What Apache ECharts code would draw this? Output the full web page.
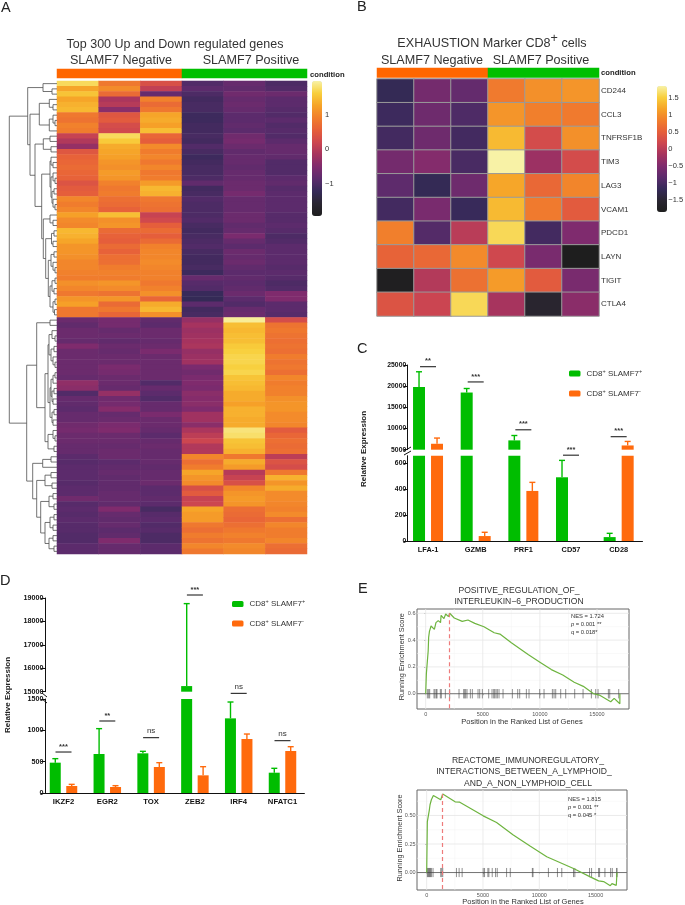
<!DOCTYPE html>
<html><head><meta charset="utf-8">
<style>html,body{margin:0;padding:0;background:#fff}#c{width:685px;height:905px}</style>
<script src="https://cdn.jsdelivr.net/npm/echarts@6/dist/echarts.min.js"></script>
</head><body><div id="c"></div>
<script>
// ---------- Panel A data (six samples, 90 gene rows, top to bottom) ----------
const sampleA1=[1.75,1.3,1.55,1.3,1.4,1.45,.85,.8,.95,.9,.15,-.05,-.3,.45,.6,.65,.7,.65,.6,.4,.5,.55,1,.9,1,1.25,1.05,1,1.45,1.4,1.3,1.15,1.15,1.1,1,1,.95,.9,1.1,1,.85,1.15,1.25,.85,.85,
-.7,-.8,-.7,-.7,-.75,-.5,-.7,-.7,-.7,-.7,-.7,-.75,-.35,-.4,-.95,-.75,-.8,-.85,-.75,-.75,-.65,-.6,-.7,-.7,-.75,-.75,-.85,-.9,-.85,-.85,-.85,-.9,-.85,-.85,-.65,-.9,-.85,-.9,-.85,-.9,-.9,-.95,-.95,-.85,-.85];
const sampleA2=[.85,1.05,.7,-.1,0,-.4,.45,.5,.3,.25,1.75,1.6,1.35,1.3,1.25,1.15,1.1,1.2,1.15,.95,.85,.9,.75,.7,.6,1.5,1.1,1.15,.7,.6,.55,.7,.6,.75,.75,.9,.95,.9,1.15,1.05,.8,1.15,.7,.85,.65,
-.6,-.6,-.75,-.7,-.8,-.7,-.75,-.7,-.7,-.55,-.6,-.7,-.7,-.75,-.3,-.65,-.6,-.45,-.75,-.7,-.55,-.5,-.7,-.7,-.75,-.7,-.7,-.85,-.8,-.75,-.8,-.8,-.8,-.75,-.75,-.8,-.5,-.75,-.8,-.75,-.85,-.8,-.5,-.75,-.75];
const sampleA3=[.35,.1,-.75,.95,.7,.85,1.3,1.35,1.25,1.5,.65,.55,1.05,.9,1,.85,1,.85,.9,1.2,1.45,1.4,.85,.8,.75,.15,.25,.55,.7,.55,.7,.95,1,1,1.05,1,.95,.95,.85,.95,1.1,.65,1.35,1.45,1.1,
-.8,-.85,-.7,-.7,-.75,-.7,-.55,-.7,-.7,-.7,-.7,-.7,-.95,-.75,-.85,-.95,-.75,-.75,-.55,-.7,-.7,-.75,-.85,-.75,-.7,-.75,-.75,-.75,-.8,-.75,-.75,-.7,-.85,-.85,-.8,-.85,-1.05,-.9,-.85,-.95,-.9,-1,-1,-.85,-.85];
const sampleA4=[-.95,-.85,-1,-1.1,-1.05,-1.05,-1.15,-1.15,-1.1,-1.1,-1.05,-1.1,-.95,-1.05,-1.15,-1.1,-1.05,-1.05,-1,-.8,-1.1,-1.05,-.95,-1,-1,-1,-.95,-1.05,-1.1,-1.05,-1,-.95,-1.05,-1.1,-1.1,-1.05,-1.15,-.75,-.9,-.95,-1.2,-1.25,-.85,-1.1,-1.05,
-.3,-.15,-.25,-.2,-.15,-.1,-.3,-.25,-.2,-.55,-.65,-.55,-.5,-.55,-.4,-.45,-.4,-.5,-.2,-.2,-.4,-.1,.05,.2,-.05,-.05,1,.75,.9,1.3,1.15,1.05,.35,.5,.15,.2,1.3,1.2,1.2,.85,.75,.9,.8,1,.85];
const sampleA5=[-.75,-.8,-.65,-.75,-.7,-.75,-.85,-.85,-.8,-.85,-.65,-.6,-.7,-.8,-.75,-.75,-.8,-.75,-.75,-.7,-.7,-.6,-.75,-.75,-.75,-.7,-.7,-.8,-.75,-.55,-.75,-.85,-.7,-.75,-.7,-.8,-.85,-.8,-.85,-.8,-.7,-.85,-.95,-.75,-.7,
1.95,1.5,1.45,1.5,1.5,1.6,1.65,1.7,1.7,1.65,1.7,1.55,1.5,1.45,1.35,1.35,1.25,1.4,1.4,1.35,1.35,1.85,1.8,1.55,1.5,1.4,.85,1.35,1.2,0,.15,.35,1,1.15,1.2,1.15,.75,.7,.65,.75,.85,.95,.85,1.05,1];
const sampleA6=[-1,-.95,-.7,-.85,-.85,-.9,-.95,-.85,-.95,-.9,-.95,-.85,-.75,-.75,-.8,-.95,-.95,-.95,-.85,-.8,-.9,-.85,-.85,-.85,-.85,-.9,-.9,-.85,-.9,-1,-.95,-.85,-.85,-.85,-.85,-.9,-.85,-.9,-1,-.95,-.5,-.5,-.85,-.85,-.9,
.3,.8,.85,.8,.75,.8,.75,.9,.8,.85,.75,1,.9,.95,.95,1.1,1.15,1.15,1.05,1.05,1,.5,.65,.75,.7,.75,.05,.4,.3,.85,1.4,1.15,1.35,1.05,1.05,1,.95,1.05,.75,1,.9,.9,1,.75,.7];
const samplesA=[sampleA1,sampleA2,sampleA3,sampleA4,sampleA5,sampleA6];
const condLabels=['SLAMF7 Negative','SLAMF7 Positive'];
const scaleTicksA=[1,0,-1];
const scaleTicksB=[1.5,1,.5,0,-.5,-1,-1.5];
// dendrogram of panel A: [height, childA, childB]; a bare number is a gene row
const treeU=[29.3,[14,0,[5,1,2]],[27,[17.7,[7.7,3,[4,4,5]],[7.7,[4,6,[2,7,8]],9]],[22,[13.7,[7,10,11],[6,12,13]],[15.3,[7,[6,14,[4,15,16]],[6,[4,17,[2,18,19]],[5,[3,20,21],[4,22,[2,23,24]]]]],[13.7,[7,25,[4,26,27]],[11.3,[5.5,[3,28,29],[4,30,31]],[8.7,[6,[3,32,33],[4,34,[2,35,36]]],[7,[5,[2,37,38],[3,39,40]],[4,[2,41,42],[2.5,43,44]]]]]]]]]];
const treeL=[30.3,[20.3,[7,45,46],[12,[9,[8,[5,47,[2,48,49]],[6,[3,50,51],[4,52,[2,53,54]]]],[7,[6,[4,[2,55,56],57],[5,[3,58,59],[4,60,61]]],[5,[3,62,63],[4,64,65]]]],[9,[4,66,[2,67,68]],[3,69,70]]]],[24.3,[14.3,[6,71,72],73],[20.3,[12,[6,74,75],[5,76,77]],[16.3,[8,[4,78,79],[3,80,81]],[12,[7,[3,82,83],[4,84,85]],[8,[4,86,87],[3,88,89]]]]]]];
const treeRoot=[47.7,treeU,treeL];
// ---------- Panel B data ----------
const genesB=['CD244','CCL3','TNFRSF1B','TIM3','LAG3','VCAM1','PDCD1','LAYN','TIGIT','CTLA4'];
const matrixB=[
[-1.2,-.6,-.75,.8,1,1.05],[-1.1,-.65,-.95,1.05,.85,.8],[-1.05,-.65,-1.05,1.35,.25,1],[-.6,-.45,-1,1.85,-.25,.25],[-.8,-1.2,-.65,1.2,.6,.9],
[-1.05,-.55,-1.15,1.35,.8,.45],[.85,-.9,0,1.6,-1.05,-.5],[.55,.6,.95,.2,-.55,-1.85],[-1.8,-.05,.7,1.1,.45,-.55],[.35,.15,1.6,-.15,-1.55,-.4]];
// ---------- Panel C data ----------
const catsC=['LFA-1','GZMB','PRF1','CD57','CD28'];
const posC=[19800,18500,7200,490,30];
const posCErr=[23400,19450,8350,620,59];
const negC=[6400,38,385,0,6000];
const negCErr=[7750,67,451,0,6950];
const sigC=[['**',24600],['***',21000],['***',9700],['***',660],['***',8070]];
// ---------- Panel D data ----------
const catsD=['IKZF2','EGR2','TOX','ZEB2','IRF4','NFATC1'];
const posD=[484,622,633,15240,1191,324];
const posDErr=[548,1027,665,18760,1452,394];
const negD=[112,96,415,282,862,670];
const negDErr=[138,117,484,420,941,739];
const sigD=[['***',654],['**',1149],['ns',883],['***',19128],['ns',1590],['ns',835]];
// ---------- Panel E data ----------
const runE1=[[0,0],[60,.15],[200,.155],[220,.32],[260,.42],[330,.465],[420,.47],[470,.505],[760,.48],[900,.53],[1050,.52],[1100,.545],[1300,.53],[1350,.585],[1600,.56],[1750,.595],[2000,.575],[2100,.6],[2500,.565],[3200,.54],[3700,.55],[4300,.525],[5100,.5],[6000,.455],[6500,.445],[7500,.38],[9000,.29],[10000,.235],[11000,.18],[12000,.14],[13000,.085],[13800,.055],[14700,0],[15200,-.01],[16200,-.06],[16500,-.035],[17000,-.075],[17000,0]];
const hitsE1=[146,263,350,730,817,934,992,1284,1372,1722,2100,2919,3327,3415,3503,3619,3911,4086,4583,4729,4962,5517,5808,5955,6042,6159,6275,6421,6772,7589,8056,8231,8815,9048,9982,10362,11092,11238,11384,11821,12259,13047,13777,14507,14886,15090,15995,16112,16900];
const runE2=[[0,0],[59,.447],[178,.462],[238,.55],[297,.594],[356,.594],[416,.638],[505,.644],[594,.676],[1247,.638],[1426,.688],[2525,.62],[2940,.617],[5019,.497],[6207,.438],[7692,.329],[9177,.232],[10662,.138],[13039,.035],[14524,-.038],[15266,-.073],[15712,-.079],[16306,-.115],[16454,-.097],[16840,-.112],[16900,0]];
const hitsE2=[59,119,178,238,297,356,416,564,1247,1337,1426,2643,2881,3148,5019,5138,5435,5524,5821,6118,6267,7098,7425,9385,9444,10811,11613,11999,13039,13157,14464,14643,15266,15355,15830,16335,16484,16870,16900];
const xTicksE=[0,5000,10000,15000];
const xMinorE=[2500,7500,12500];
const yTicksE1=[0,.2,.4,.6];
const yMinorE1=[.1,.3,.5];
const yTicksE2=[0,.25,.5];
const yMinorE2=[.125,.375,.625];
const legendNames=['CD8+ SLAMF7+','CD8+ SLAMF7-'];

// ---------- helpers ----------
const F='"Liberation Sans",Arial,sans-serif';
const GREEN='#00bd00',ORANGE='#ff6a0d';
const palette=['#1e1e1e','#2a2631','#352a58','#5a2b6c','#7e2b6e','#a5335f','#cd4650','#e65f3a','#f17e2c','#f6a328','#f8cf3c','#f8f2a6'];
const grids=[],xAxes=[],yAxes=[],series=[],visualMaps=[],graphics=[];
function addGrid(g,x,y){grids.push(Object.assign({containLabel:false,show:false},g));
  xAxes.push(Object.assign({gridIndex:grids.length-1},x));yAxes.push(Object.assign({gridIndex:grids.length-1},y));return grids.length-1;}
const hiddenCat=d=>({type:'category',data:d,show:false});
function T(text,x,y,size,o={}){return {type:'text',x,y,rotation:o.rot||0,z:50,style:{text,fontFamily:F,fontSize:size,fontWeight:o.bold?'bold':'normal',fill:o.fill||'#333',align:o.align||'center',verticalAlign:'middle',rich:o.rich}};}
function L(x1,y1,x2,y2){return {type:'line',z:50,shape:{x1,y1,x2,y2},style:{stroke:'#111',lineWidth:1}};}

// panel letters
[['A',1,8],['B',357,7],['C',357,349],['D',0,581],['E',358,589]].forEach(p=>graphics.push(T(p[0],p[1],p[2],14.5,{align:'left',fill:'#222'})));

// ---------- Panel A ----------
const colsA=['N1','N2','N3','P1','P2','P3'];
const rowsA=sampleA1.map((_,i)=>'g'+i);
const dataA=[];samplesA.forEach((col,c)=>col.forEach((v,r)=>dataA.push([c,r,v])));
let g=addGrid({left:57,top:81,width:250,height:473},hiddenCat(colsA),Object.assign(hiddenCat(rowsA),{inverse:true}));
series.push({type:'heatmap',xAxisIndex:g,yAxisIndex:g,data:dataA,progressive:0,emphasis:{disabled:true}});
visualMaps.push({type:'continuous',seriesIndex:series.length-1,min:-1.95,max:2,left:312,top:81,itemWidth:10,itemHeight:135,padding:0,inRange:{color:palette},calculable:false,text:null,showLabel:false,hoverLink:false});
g=addGrid({left:322,top:81,width:1,height:135},{type:'value',show:false,min:0,max:1},{type:'value',position:'right',min:-1.95,max:2,axisLine:{show:false},axisTick:{show:false,customValues:scaleTicksA},splitLine:{show:false},axisLabel:{customValues:scaleTicksA,margin:2,fontFamily:F,fontSize:7.5,color:'#333',formatter:v=>String(v).replace('-','\u2212')}});
// dendrogram
const segs=[];
(function walk(n){if(typeof n==='number')return{h:0,r:n+.5};const a=walk(n[1]),b=walk(n[2]),r=(a.r+b.r)/2;
  segs.push([a.h,a.r,n[0],a.r],[b.h,b.r,n[0],b.r],[n[0],a.r,n[0],b.r]);return{h:n[0],r};})(treeRoot);
g=addGrid({left:0,top:81,width:57,height:473},{type:'value',show:false,min:0,max:57,inverse:true},{type:'value',show:false,min:0,max:90,inverse:true});
series.push({type:'custom',xAxisIndex:g,yAxisIndex:g,data:segs,silent:true,encode:{x:[0,2],y:[1,3]},renderItem:(p,api)=>{const a=api.coord([api.value(0),api.value(1)]),b=api.coord([api.value(2),api.value(3)]);
  return {type:'line',shape:{x1:a[0],y1:a[1],x2:b[0],y2:b[1]},style:{stroke:'#4f4f4f',lineWidth:.8}};}});
// condition bars
function condBar(left,top,width,height){
  const gi=addGrid({left,top,width,height},hiddenCat(condLabels),hiddenCat(['condition']));
  series.push({type:'heatmap',xAxisIndex:gi,yAxisIndex:gi,progressive:0,emphasis:{disabled:true},data:[{value:[0,0,1],itemStyle:{color:'#ff6600'}},{value:[1,0,1],itemStyle:{color:'#00bf00'}}]});
}
condBar(57,69,250,9);
graphics.push(T('Top 300 Up and Down regulated genes',175,44.5,12.5));
graphics.push(T(condLabels[0],121,61,12.6));graphics.push(T(condLabels[1],251,61,12.6));
graphics.push(T('condition',310,74.5,7.7,{bold:true,align:'left',fill:'#222'}));

// ---------- Panel B ----------
const dataB=[];matrixB.forEach((row,r)=>row.forEach((v,c)=>dataB.push([c,r,v])));
g=addGrid({left:377,top:79,width:222,height:237},hiddenCat(colsA),{type:'category',data:genesB,inverse:true,position:'right',axisLine:{show:false},axisTick:{show:false},axisLabel:{margin:2,fontFamily:F,fontSize:8,color:'#333'}});
series.push({type:'heatmap',xAxisIndex:g,yAxisIndex:g,data:dataB,progressive:0,itemStyle:{borderColor:'#9a9a9a',borderWidth:1},emphasis:{disabled:true}});
visualMaps.push({type:'continuous',seriesIndex:series.length-1,min:-1.85,max:1.85,left:657,top:86,itemWidth:10,itemHeight:126,padding:0,inRange:{color:palette},calculable:false,text:null,showLabel:false,hoverLink:false});
addGrid({left:667,top:86,width:1,height:126},{type:'value',show:false,min:0,max:1},{type:'value',position:'right',min:-1.85,max:1.85,axisLine:{show:false},axisTick:{show:false,customValues:scaleTicksB},splitLine:{show:false},axisLabel:{customValues:scaleTicksB,margin:1,fontFamily:F,fontSize:7.5,color:'#333',formatter:v=>String(v).replace('-','\u2212')}});
condBar(377,68,222,9.5);
graphics.push(T('{a|EXHAUSTION Marker CD8}{s|+}{a| cells}',492,44,12.6,{rich:{a:{fontFamily:F,fontSize:12.6,fill:'#333',color:'#333',lineHeight:24,verticalAlign:'bottom',height:24},s:{fontFamily:F,fontSize:12.6,color:'#333',lineHeight:14,verticalAlign:'top'}}}));
graphics.push(T(condLabels[0],432,61,12.6));graphics.push(T(condLabels[1],541,61,12.6));
graphics.push(T('condition',601,73,7.7,{bold:true,align:'left',fill:'#222'}));

// ---------- Panels C and D: broken-axis bars ----------
const plain=v=>String(v);
function yAxisStyle(extra,fs){return Object.assign({type:'value',offset:-3.5,axisLine:{show:true,lineStyle:{color:'#111',width:1}},axisTick:{show:true,length:4,lineStyle:{color:'#111',width:1}},splitLine:{show:false},axisLabel:{margin:1.5,fontFamily:F,fontSize:fs,fontWeight:'bold',color:'#111',formatter:plain}},extra);}
function errSeries(gi,rows,color,off){
  series.push({type:'custom',xAxisIndex:gi,yAxisIndex:gi,data:rows,silent:true,z:4,clip:false,renderItem:(p,api)=>{
    const a=api.coord([api.value(0),api.value(1)]),b=api.coord([api.value(0),api.value(2)]),x=a[0]+off;
    const st={stroke:color,lineWidth:1.4};
    return {type:'group',children:[{type:'line',shape:{x1:x,y1:a[1],x2:x,y2:b[1]},style:st},{type:'line',shape:{x1:x-3,y1:b[1],x2:x+3,y2:b[1]},style:st}]};}});
}
function sigSeries(gi,rows){
  series.push({type:'custom',xAxisIndex:gi,yAxisIndex:gi,data:rows.map(r=>[r[0],r[1]]),silent:true,z:5,clip:false,renderItem:(p,api)=>{
    const c=api.coord([api.value(0),api.value(1)]),lab=rows[p.dataIndex][2],ns=lab==='ns';
    return {type:'group',children:[{type:'line',shape:{x1:c[0]-8,y1:c[1],x2:c[0]+8,y2:c[1]},style:{stroke:'#222',lineWidth:1.1}},
      {type:'text',style:{x:c[0],y:c[1]-(ns?6.5:5.5),text:lab,align:'center',verticalAlign:'middle',fontFamily:F,fontSize:ns?8:7.5,fontWeight:ns?'normal':'bold',fill:'#333'}}]};}});
}
function broken(o){
  const up=addGrid({left:o.left,top:o.upTop,width:o.width,height:o.upH},hiddenCat(o.cats),yAxisStyle({min:o.upMin,max:o.upMax,interval:o.upInt},o.tickFs));
  const low=addGrid({left:o.left,top:o.lowTop,width:o.width,height:o.lowH},
    {type:'category',data:o.cats,axisLine:{lineStyle:{color:'#111',width:1}},axisTick:{length:3,alignWithLabel:true,lineStyle:{color:'#111'}},axisLabel:{margin:5,interval:0,fontFamily:F,fontSize:o.catFs,fontWeight:'bold',color:'#111'}},
    yAxisStyle({min:0,max:o.lowMax,axisTick:{show:true,length:4,lineStyle:{color:'#111',width:1},customValues:o.lowTicks},axisLabel:{customValues:o.lowTicks,margin:1.5,fontFamily:F,fontSize:o.tickFs,fontWeight:'bold',color:'#111',formatter:plain}},o.tickFs));
  [[o.g,o.gE,GREEN,legendNames[0],-o.off],[o.n,o.nE,ORANGE,legendNames[1],o.off]].forEach(s=>{
    const [v,e,color,name,off]=s;
    series.push({type:'bar',name,xAxisIndex:up,yAxisIndex:up,data:v.map(x=>x>=o.upMin?x:'-'),barWidth:o.barW,barGap:'50%',itemStyle:{color},silent:true});
    series.push({type:'bar',name,xAxisIndex:low,yAxisIndex:low,data:v,barWidth:o.barW,barGap:'50%',itemStyle:{color},silent:true});
    errSeries(up,v.map((x,i)=>[i,x,e[i]]).filter(r=>r[1]>=o.upMin),color,off);
    errSeries(low,v.map((x,i)=>[i,x,e[i]]).filter(r=>r[1]<o.upMin&&r[1]>0),color,off);
  });
  sigSeries(up,o.sig.map((s,i)=>[i,s[1],s[0]]).filter(r=>r[1]>=o.upMin));
  sigSeries(low,o.sig.map((s,i)=>[i,s[1],s[0]]).filter(r=>r[1]<o.upMin));
}
broken({left:404.2,width:238.3,upTop:365,upH:84.7,upMin:5000,upMax:25000,upInt:5000,lowTop:455.7,lowH:85.3,lowMax:656,lowTicks:[0,200,400,600],cats:catsC,g:posC,gE:posCErr,n:negC,nE:negCErr,sig:sigC,barW:12,off:9,tickFs:6.8,catFs:7.4});
broken({left:41.6,width:262.8,upTop:598,upH:93.7,upMin:15000,upMax:19000,upInt:1000,lowTop:699,lowH:94,lowMax:1500,lowTicks:[0,500,1000,1500],cats:catsD,g:posD,gE:posDErr,n:negD,nE:negDErr,sig:sigD,barW:11,off:8.2,tickFs:7.2,catFs:7.7});
graphics.push(T('Relative Expression',364,449,8,{bold:true,rot:Math.PI/2,fill:'#222'}));
graphics.push(T('Relative Expression',7.5,695,8,{bold:true,rot:Math.PI/2,fill:'#222'}));
graphics.push(L(404,451,411,447),L(404,455,411,451),L(42,693,47,697),L(42,699,47,703));
const richLegend={a:{fontFamily:F,fontSize:8,color:'#333'},s:{fontFamily:F,fontSize:5.5,color:'#333',verticalAlign:'top',lineHeight:11}};
const legendFmt=n=>n===legendNames[0]?'{a|CD8}{s|+}{a| SLAMF7}{s|+}':'{a|CD8}{s|+}{a| SLAMF7}{s|-}';
const legends=[[569,368,10.5],[232,598.5,10]].map(l=>({left:l[0],top:l[1],orient:'vertical',padding:0,itemWidth:11.5,itemHeight:6,itemGap:l[2],data:legendNames,selectedMode:false,formatter:legendFmt,textStyle:{rich:richLegend,padding:[0,0,0,1]},inactiveColor:'#ccc'}));

// ---------- Panel E ----------
function gsea(o){
  const tk={length:1.5,lineStyle:{color:'#555',width:.6}};
  const lab={margin:1.5,fontFamily:F,fontSize:5.5,color:'#555'};
  const gi=addGrid({left:o.left,top:o.top,width:o.width,height:o.height,show:true,borderColor:'#666',borderWidth:1,backgroundColor:'#fff'},
    {type:'value',min:o.xMin,max:o.xMax,axisLine:{show:false},splitLine:{show:false},axisTick:Object.assign({show:true,customValues:xTicksE},tk),axisLabel:Object.assign({customValues:xTicksE,formatter:plain},lab,{margin:2.5})},
    {type:'value',min:o.yMin,max:o.yMax,axisLine:{show:false},splitLine:{show:false},axisTick:Object.assign({show:true,customValues:o.yTicks},tk),axisLabel:Object.assign({customValues:o.yTicks,formatter:v=>v.toFixed(o.dec)},lab)});
  const rules=[...xMinorE.map(v=>[v,0,0]),...o.yMinor.map(v=>[v,1,0]),...xTicksE.map(v=>[v,0,1]),...o.yTicks.map(v=>[v,1,1])];
  series.push({type:'custom',xAxisIndex:gi,yAxisIndex:gi,data:rules,silent:true,z:1,renderItem:(p,api)=>{
    const v=api.value(0),vert=api.value(1)===0,major=api.value(2)===1;
    const a=vert?api.coord([v,o.yMin]):api.coord([o.xMin,v]),b=vert?api.coord([v,o.yMax]):api.coord([o.xMax,v]);
    return {type:'line',shape:{x1:a[0],y1:a[1],x2:b[0],y2:b[1]},style:{stroke:major?'#e6e6e6':'#f3f3f3',lineWidth:major?.8:.5}};}});
  series.push({type:'custom',xAxisIndex:gi,yAxisIndex:gi,data:[[0]],silent:true,z:3,renderItem:(p,api)=>{
    const a=api.coord([o.xMin,0]),b=api.coord([o.xMax,0]);
    return {type:'line',shape:{x1:a[0],y1:a[1],x2:b[0],y2:b[1]},style:{stroke:'#555',lineWidth:.8}};}});
  series.push({type:'custom',xAxisIndex:gi,yAxisIndex:gi,data:o.hits.map(v=>[v]),silent:true,z:3,renderItem:(p,api)=>{
    const a=api.coord([api.value(0),-o.hit]),b=api.coord([api.value(0),o.hit]);
    return {type:'line',shape:{x1:a[0],y1:a[1],x2:b[0],y2:b[1]},style:{stroke:'#444',lineWidth:.6}};}});
  series.push({type:'line',xAxisIndex:gi,yAxisIndex:gi,data:o.run,symbol:'none',silent:true,z:4,lineStyle:{color:'#6eb43f',width:1.2},
    markLine:{silent:true,symbol:'none',label:{show:false},lineStyle:{color:'#ee7b7b',type:[4,3],width:1.2},data:[[{coord:[o.peak,o.run.find(r=>r[0]===o.peak)[1]]},{coord:[o.peak,o.yMin]}]]}});
  const rich={n:{fontFamily:F,fontSize:5.8,color:'#333'},i:{fontFamily:F,fontSize:5.8,fontStyle:'italic',color:'#333'}};
  graphics.push(T(o.nes,o.sx,o.sy,5.8,{align:'left'}),T(`{i|p}{n| = ${o.p}}`,o.sx,o.sy+8,5.8,{align:'left',rich}),T(`{n|q = ${o.q}}`,o.sx,o.sy+16,5.8,{align:'left',rich}));
}
gsea({left:417,top:609,width:212,height:100,xMin:-760,xMax:17800,yMin:-.114,yMax:.632,yTicks:yTicksE1,yMinor:yMinorE1,dec:1,hits:hitsE1,hit:.035,run:runE1,peak:2100,nes:'NES = 1.724',p:'0.001 **',q:'0.018*',sx:571,sy:616.3});
gsea({left:417,top:790,width:210,height:100,xMin:-860,xMax:17790,yMin:-.153,yMax:.7235,yTicks:yTicksE2,yMinor:yMinorE2,dec:2,hits:hitsE2,hit:.04,run:runE2,peak:1426,nes:'NES = 1.815',p:'0.001 **',q:'0.045 *',sx:568,sy:799.3});
graphics.push(T('POSITIVE_REGULATION_OF_',519,590.7,8.6),T('INTERLEUKIN\u22126_PRODUCTION',519,601.7,8.6));
graphics.push(T('Running Enrichment Score',402,656.7,7.3,{rot:Math.PI/2}),T('Position in the Ranked List of Genes',522,721.7,7.5));
graphics.push(T('REACTOME_IMMUNOREGULATORY_',528,760.7,8.6),T('INTERACTIONS_BETWEEN_A_LYMPHOID_',524,772,8.6),T('AND_A_NON_LYMPHOID_CELL',528,783.3,8.6));
graphics.push(T('Running Enrichment Score',400,838,7.3,{rot:Math.PI/2}),T('Position in the Ranked List of Genes',523,902,7.5));

const chart=echarts.init(document.getElementById('c'),null,{renderer:'canvas'});
chart.setOption({animation:false,backgroundColor:'#fff',textStyle:{fontFamily:F},grid:grids,xAxis:xAxes,yAxis:yAxes,series,visualMap:visualMaps,legend:legends,graphic:graphics});
</script></body></html>
